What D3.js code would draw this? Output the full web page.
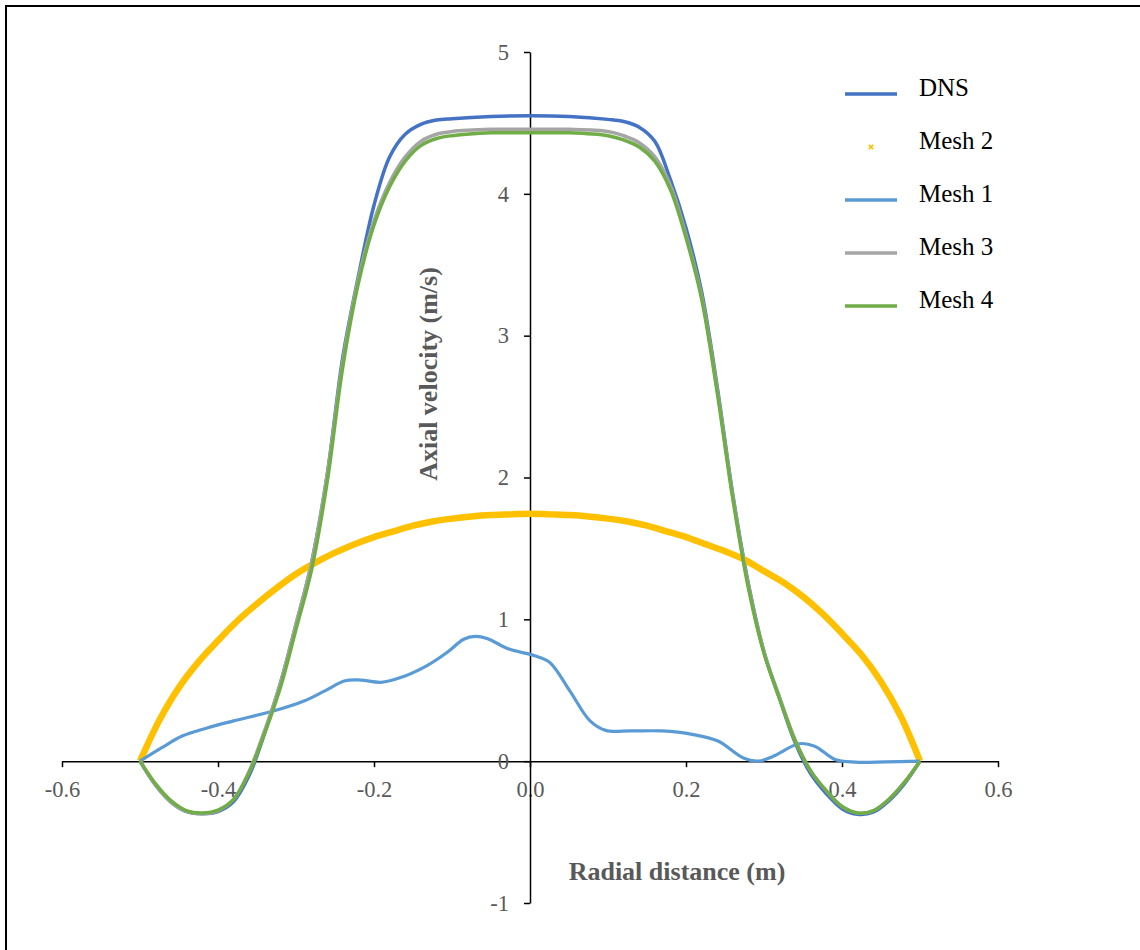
<!DOCTYPE html>
<html>
<head>
<meta charset="utf-8">
<script src="https://cdn.jsdelivr.net/npm/d3@7"></script>
<style>
  body { margin: 0; background: #fff; }
  svg { display: block; font-family: "Liberation Serif", "Times New Roman", serif; }
</style>
</head>
<body>
<div id="chart"></div>
<script>
// profile data
var radial = [-0.5, -0.48, -0.46, -0.44, -0.42, -0.40, -0.38, -0.36, -0.34, -0.32, -0.30, -0.28, -0.26, -0.24, -0.22, -0.20, -0.18, -0.16, -0.14, -0.12, -0.10, -0.05, 0,
              0.05, 0.10, 0.12, 0.14, 0.16, 0.18, 0.20, 0.22, 0.24, 0.26, 0.28, 0.30, 0.32, 0.34, 0.36, 0.38, 0.40, 0.42, 0.44, 0.46, 0.48, 0.50];

var dns = [0, -0.17, -0.29, -0.355, -0.37, -0.355, -0.285, -0.10, 0.20, 0.55, 0.96, 1.40, 2.02, 2.85, 3.42, 3.92, 4.26, 4.42, 4.49, 4.52, 4.53, 4.545, 4.55,
           4.545, 4.525, 4.51, 4.47, 4.37, 4.10, 3.76, 3.31, 2.64, 1.88, 1.25, 0.77, 0.44, 0.13, -0.09, -0.23, -0.335, -0.375, -0.36, -0.28, -0.16, 0];

var mesh3 = [0, -0.17, -0.29, -0.355, -0.37, -0.35, -0.27, -0.07, 0.22, 0.55, 0.97, 1.40, 2.02, 2.82, 3.40, 3.81, 4.08, 4.26, 4.37, 4.42, 4.44, 4.455, 4.455,
             4.455, 4.44, 4.41, 4.36, 4.26, 4.06, 3.71, 3.28, 2.62, 1.87, 1.24, 0.77, 0.45, 0.15, -0.07, -0.21, -0.32, -0.365, -0.35, -0.27, -0.15, 0];

var mesh4 = [0, -0.16, -0.28, -0.35, -0.365, -0.345, -0.27, -0.08, 0.20, 0.52, 0.93, 1.35, 1.97, 2.78, 3.37, 3.78, 4.05, 4.23, 4.34, 4.39, 4.41, 4.43, 4.43,
             4.43, 4.41, 4.38, 4.33, 4.23, 4.03, 3.69, 3.26, 2.60, 1.85, 1.22, 0.76, 0.44, 0.14, -0.07, -0.21, -0.32, -0.365, -0.35, -0.27, -0.15, 0];

var mesh2X = [-0.5, -0.475, -0.45, -0.425, -0.4, -0.375, -0.35, -0.325, -0.3, -0.275, -0.25, -0.225, -0.2, -0.175, -0.15, -0.125, -0.1, -0.075, -0.05, -0.025, 0,
              0.025, 0.05, 0.075, 0.1, 0.125, 0.15, 0.175, 0.2, 0.225, 0.25, 0.275, 0.3, 0.325, 0.35, 0.375, 0.4, 0.425, 0.45, 0.475, 0.5];
var mesh2 = [0, 0.29, 0.52, 0.70, 0.85, 0.99, 1.11, 1.22, 1.32, 1.40, 1.47, 1.53, 1.58, 1.62, 1.66, 1.69, 1.71, 1.725, 1.735, 1.74, 1.745,
             1.74, 1.735, 1.725, 1.71, 1.69, 1.66, 1.62, 1.58, 1.53, 1.48, 1.42, 1.34, 1.26, 1.16, 1.04, 0.90, 0.75, 0.56, 0.32, 0];

var mesh1X = [-0.5, -0.472, -0.446, -0.413, -0.38, -0.328, -0.289, -0.263, -0.237, -0.217, -0.191, -0.165, -0.132, -0.106, -0.085, -0.07, -0.055, -0.027, 0.005,
              0.025, 0.051, 0.077, 0.097, 0.129, 0.169, 0.208, 0.241, 0.273, 0.293, 0.312, 0.345, 0.365, 0.391, 0.417, 0.456, 0.5];
var mesh1 = [0, 0.095, 0.177, 0.236, 0.284, 0.355, 0.426, 0.496, 0.567, 0.572, 0.556, 0.591, 0.674, 0.768, 0.86, 0.88, 0.865, 0.79, 0.745,
             0.697, 0.496, 0.284, 0.217, 0.213, 0.213, 0.189, 0.142, 0.024, 0.0, 0.035, 0.123, 0.106, 0.012, -0.007, -0.005, 0];

var xTicks = [-0.6, -0.4, -0.2, 0, 0.2, 0.4, 0.6];
var yTicks = [-1, 0, 1, 2, 3, 4, 5];

var seriesNames = ["DNS", "Mesh 2", "Mesh 1", "Mesh 3", "Mesh 4"];
var seriesColors = ["#4472C4", "#FFC000", "#5B9BD5", "#A5A5A5", "#70AD47"];

var svgWidth = 1140;
var svgHeight = 950;

var svg = d3.select("#chart")
    .append("svg")
    .attr("width", svgWidth)
    .attr("height", svgHeight);

// outer frame (right / bottom edges fall outside the picture)
svg.append("rect")
    .attr("x", 6)
    .attr("y", 6)
    .attr("width", 1140)
    .attr("height", 960)
    .attr("fill", "none")
    .attr("stroke", "#000")
    .attr("stroke-width", 2);

var xScale = d3.scaleLinear().domain([-0.6, 0.6]).range([62, 998]);
var yScale = d3.scaleLinear().domain([-1, 5]).range([903, 52]);

// plain hyphen instead of the unicode minus
var fmtX = d => d3.format(".1f")(d).replace("\u2212", "-");
var fmtY = d => d3.format("d")(d).replace("\u2212", "-");

// axes cross at the origin
var xAxis = d3.axisBottom(xScale)
    .tickValues(xTicks)
    .tickSize(6)
    .tickSizeOuter(0)
    .tickFormat(fmtX);

var yAxis = d3.axisLeft(yScale)
    .tickValues(yTicks)
    .tickSize(6)
    .tickSizeOuter(0)
    .tickPadding(15)
    .tickFormat(fmtY);

var xg = svg.append("g")
    .attr("transform", `translate(0, ${yScale(0)})`)
    .call(xAxis);

var yg = svg.append("g")
    .attr("transform", `translate(${xScale(0)}, 0)`)
    .call(yAxis);

[xg, yg].forEach(function(g) {
    g.select(".domain").attr("stroke", "#000").attr("stroke-width", 1.5);
    g.selectAll(".tick line").attr("stroke", "#000").attr("stroke-width", 1.5);
    g.selectAll(".tick text")
        .attr("fill", "#595959")
        .style("font-family", "'Liberation Serif', 'Times New Roman', serif")
        .style("font-size", "22.5px");
});
xg.selectAll(".tick text").attr("y", 36).attr("dy", 0);

var line = d3.line()
    .x(d => xScale(d[0]))
    .y(d => yScale(d[1]))
    .curve(d3.curveCatmullRom.alpha(0.5));

var series = [
    d3.zip(radial, dns),
    d3.zip(mesh2X, mesh2),
    d3.zip(mesh1X, mesh1),
    d3.zip(radial, mesh3),
    d3.zip(radial, mesh4)
];
var widths = [3.5, 6.5, 3.2, 3.5, 3.5];

series.forEach(function(pts, i) {
    svg.append("path")
        .datum(pts)
        .attr("fill", "none")
        .attr("stroke", seriesColors[i])
        .attr("stroke-width", widths[i])
        .attr("stroke-linejoin", "round")
        .attr("d", line);
});

// axis titles
svg.append("text")
    .attr("x", 677)
    .attr("y", 880)
    .attr("text-anchor", "middle")
    .attr("font-weight", "bold")
    .attr("font-size", "26px")
    .attr("fill", "#595959")
    .text("Radial distance (m)");

svg.append("text")
    .attr("transform", "translate(437, 374) rotate(-90)")
    .attr("text-anchor", "middle")
    .attr("font-weight", "bold")
    .attr("font-size", "26px")
    .attr("fill", "#595959")
    .text("Axial velocity (m/s)");

// legend
var legendY = [94, 147, 200, 253, 306];
var legend = svg.append("g");
seriesNames.forEach(function(name, i) {
    if (name === "Mesh 2") {
        legend.append("path")
            .attr("d", d3.symbol(d3.symbolX, 14))
            .attr("transform", `translate(871, ${legendY[i]})`)
            .attr("stroke", seriesColors[i])
            .attr("stroke-width", 1.6);
    } else {
        legend.append("line")
            .attr("x1", 845).attr("x2", 897)
            .attr("y1", legendY[i]).attr("y2", legendY[i])
            .attr("stroke", seriesColors[i])
            .attr("stroke-width", 3.5);
    }
    legend.append("text")
        .attr("x", 919)
        .attr("y", legendY[i] - 7)
        .attr("dy", "0.35em")
        .attr("font-size", "25px")
        .attr("fill", "#000")
        .text(name);
});
</script>
</body>
</html>
